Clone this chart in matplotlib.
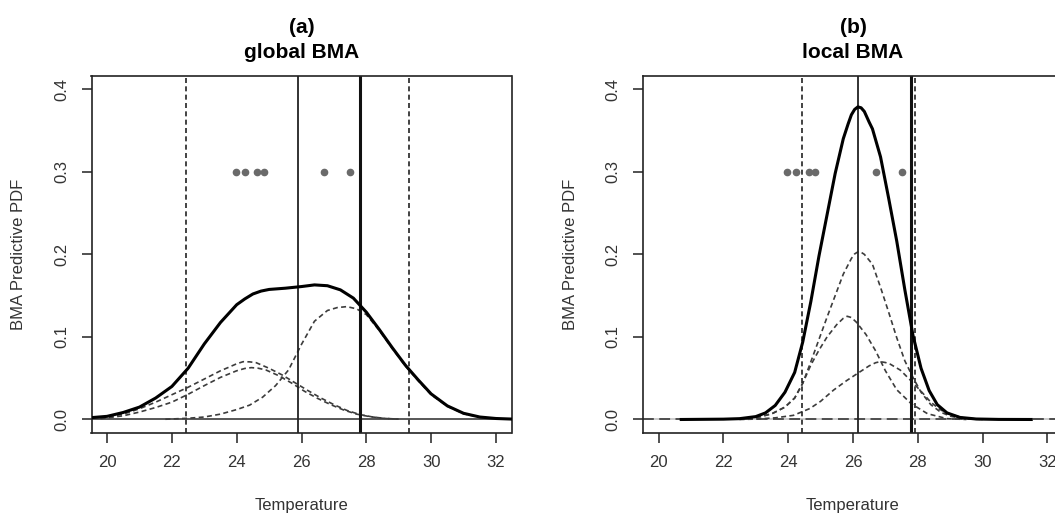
import matplotlib
matplotlib.use("Agg")
import matplotlib.pyplot as plt

plt.rcParams['font.family'] = ['Liberation Sans', 'DejaVu Sans']

# ---------------- data ----------------
members = [23.97, 24.25, 24.63, 24.84, 26.70, 27.50]
observation = 27.8
member_level = 0.3

# panel (a) global BMA
a_q10, a_median, a_q90 = 22.45, 25.90, 29.33
a_bma_t = [19.5, 20.0, 20.5, 21.0, 21.5, 22.0, 22.5, 23.0, 23.5, 24.0, 24.25, 24.5, 24.75,
           25.0, 25.5, 26.0, 26.4, 26.8, 27.2, 27.6, 28.0, 28.4, 28.8, 29.2, 29.6, 30.0,
           30.5, 31.0, 31.5, 32.0, 32.5]
a_bma_v = [0.0022, 0.0038, 0.0085, 0.015, 0.026, 0.040, 0.062, 0.0915, 0.1175, 0.139, 0.146,
           0.152, 0.1555, 0.1575, 0.159, 0.161, 0.163, 0.162, 0.157, 0.147, 0.130, 0.109,
           0.087, 0.066, 0.048, 0.031, 0.0165, 0.0075, 0.003, 0.0012, 0.0005]
a_c1_t = [19.8, 20.5, 21.0, 21.5, 22.0, 22.5, 23.0, 23.5, 23.8, 24.0, 24.2, 24.4, 24.6, 25.0,
          25.4, 25.8, 26.2, 26.6, 27.0, 27.4, 27.8, 28.2, 28.6, 29.0]
a_c1_v = [0.0015, 0.0065, 0.013, 0.021, 0.030, 0.039, 0.049, 0.059, 0.064, 0.0675, 0.070,
          0.0698, 0.0688, 0.062, 0.054, 0.0445, 0.035, 0.026, 0.018, 0.011, 0.006, 0.003,
          0.0012, 0.0004]
a_c2_t = [19.8, 20.5, 21.0, 21.5, 22.0, 22.5, 23.0, 23.5, 24.0, 24.25, 24.45, 24.65, 24.9,
          25.3, 25.7, 26.1, 26.5, 26.9, 27.3, 27.7, 28.1, 28.5, 29.0]
a_c2_v = [0.001, 0.0045, 0.009, 0.0145, 0.021, 0.0305, 0.041, 0.051, 0.059, 0.0618, 0.0628,
          0.0622, 0.060, 0.053, 0.044, 0.034, 0.0255, 0.018, 0.0115, 0.0065, 0.0035, 0.0015,
          0.0004]
a_c3_t = [21.8, 22.5, 23.0, 23.5, 24.0, 24.4, 24.8, 25.2, 25.6, 26.0, 26.4, 26.8, 27.1, 27.4,
          27.7, 28.0, 28.4, 28.8, 29.2, 29.6, 30.0, 30.5, 31.0, 31.5, 32.0]
a_c3_v = [0.0003, 0.0015, 0.003, 0.0065, 0.012, 0.0174, 0.027, 0.041, 0.060, 0.091, 0.119,
          0.132, 0.1355, 0.1367, 0.134, 0.127, 0.108, 0.086, 0.065, 0.047, 0.030, 0.016,
          0.007, 0.0028, 0.001]

# panel (b) local BMA
b_q10, b_median, b_q90 = 24.43, 26.14, 27.90
b_bma_t = [20.7, 22.0, 22.5, 23.0, 23.3, 23.6, 23.9, 24.2, 24.45, 24.7, 24.95, 25.2, 25.45,
           25.7, 25.85, 25.95, 26.05, 26.15, 26.25, 26.35, 26.5, 26.6, 26.85, 27.1, 27.35,
           27.6, 27.85, 28.1, 28.35, 28.6, 28.9, 29.3, 29.8, 30.5, 31.5]
b_bma_v = [0.0, 0.0004, 0.001, 0.0035, 0.008, 0.017, 0.033, 0.057, 0.094, 0.143, 0.198,
           0.248, 0.298, 0.340, 0.358, 0.369, 0.3755, 0.3786, 0.3775, 0.373, 0.360, 0.352,
           0.318, 0.268, 0.216, 0.157, 0.102, 0.062, 0.035, 0.018, 0.008, 0.0025, 0.0006,
           0.0001, 0.0]
b_c1_t = [22.5, 23.0, 23.5, 23.9, 24.2, 24.45, 24.7, 24.95, 25.2, 25.45, 25.7, 25.95, 26.05,
          26.15, 26.25, 26.35, 26.6, 26.85, 27.1, 27.35, 27.6, 27.85, 28.1, 28.4, 28.7, 29.0,
          29.4, 30.0]
b_c1_v = [0.0005, 0.002, 0.007, 0.015, 0.026, 0.044, 0.070, 0.097, 0.124, 0.150, 0.176,
          0.195, 0.2005, 0.203, 0.2025, 0.200, 0.188, 0.160, 0.130, 0.099, 0.071, 0.051,
          0.033, 0.018, 0.009, 0.004, 0.001, 0.0]
b_c2_t = [22.5, 23.0, 23.5, 23.9, 24.2, 24.45, 24.7, 24.95, 25.2, 25.5, 25.7, 25.82, 25.95,
          26.1, 26.4, 26.7, 27.0, 27.35, 27.8, 28.3, 28.9, 29.5]
b_c2_v = [0.0005, 0.002, 0.007, 0.015, 0.026, 0.044, 0.066, 0.084, 0.100, 0.115, 0.1225,
          0.125, 0.1235, 0.118, 0.103, 0.083, 0.059, 0.036, 0.019, 0.007, 0.001, 0.0]
b_c3_t = [22.5, 23.0, 23.6, 24.16, 24.67, 25.0, 25.4, 25.8, 26.14, 26.5, 26.7, 26.84, 27.0,
          27.15, 27.46, 27.87, 28.15, 28.39, 28.65, 28.9, 29.4, 30.0]
b_c3_v = [0.0, 0.0005, 0.002, 0.005, 0.0133, 0.022, 0.0356, 0.047, 0.0558, 0.065, 0.0688,
          0.070, 0.069, 0.067, 0.0598, 0.0437, 0.032, 0.0214, 0.013, 0.0073, 0.002, 0.0]

x_ticks = [20, 22, 24, 26, 28, 30, 32]
y_ticks = [0.0, 0.1, 0.2, 0.3, 0.4]
y_ticklabels = ["0.0", "0.1", "0.2", "0.3", "0.4"]

# ---------------- figure ----------------
W, H = 1055, 516
fig = plt.figure(figsize=(W / 100, H / 100), dpi=100)
ax_h = 356.7
bottom = (H - 432.7) / H
ax1 = fig.add_axes([91.5 / W, bottom, 420 / W, ax_h / H])
ax2 = fig.add_axes([643 / W, bottom, 420 / W, ax_h / H])

comp_color = '#3c3c3c'
dash = (0, (3, 2))


def style(ax, title):
    ax.set_xlim(19.52, 32.48)
    ax.set_ylim(-0.016, 0.416)
    ax.set_xticks(x_ticks)
    ax.set_xticklabels([str(t) for t in x_ticks])
    ax.set_yticks(y_ticks)
    ax.set_yticklabels(y_ticklabels, rotation=90, va='center')
    ax.tick_params(direction='out', length=7, width=1.1, labelsize=12,
                   labelcolor='#333333', pad=9, color='#222222')
    for s in ax.spines.values():
        s.set_linewidth(1.2)
        s.set_color('#222222')
    ax.set_xlabel('Temperature', fontsize=12, color='#333333')
    ax.set_ylabel('BMA Predictive PDF', fontsize=12, color='#333333')
    ax.xaxis.set_label_coords(0.5, -0.182)
    ax.yaxis.set_label_coords(-0.155, 0.5)
    ax.set_title(title, fontsize=15, fontweight='bold', pad=13, linespacing=1.4)


def panel(ax, bma_t, bma_v, comps, q10, med, q90, hline_style):
    if hline_style == 'solid':
        ax.axhline(0, color='#4a4a4a', lw=1.3, zorder=1)
    else:
        ax.axhline(0, color='#c8c8c8', lw=1.3, zorder=1)
        ax.axhline(0, color='#444444', lw=1.3, ls=(0, (6, 3)), zorder=1.5)
    for ct, cv in comps:
        ax.plot(ct, cv, color=comp_color, lw=1.2, ls=dash, zorder=2)
    ax.plot(bma_t, bma_v, color='black', lw=2.2, zorder=3, solid_joinstyle='round')
    ax.axvline(q10, color='#222222', lw=1.2, ls=dash, zorder=2)
    ax.axvline(q90, color='#222222', lw=1.2, ls=dash, zorder=2)
    ax.axvline(med, color='#222222', lw=1.3, zorder=2)
    ax.axvline(observation, color='#111111', lw=2.2, zorder=2)
    ax.plot(members, [member_level] * len(members), 'o', color='#6a6a6a', ms=4.5,
            mec='#6a6a6a', zorder=4)


panel(ax1, a_bma_t, a_bma_v, [(a_c1_t, a_c1_v), (a_c2_t, a_c2_v), (a_c3_t, a_c3_v)],
      a_q10, a_median, a_q90, 'solid')
panel(ax2, b_bma_t, b_bma_v, [(b_c1_t, b_c1_v), (b_c2_t, b_c2_v), (b_c3_t, b_c3_v)],
      b_q10, b_median, b_q90, 'dashed')

style(ax1, "(a)\nglobal BMA")
style(ax2, "(b)\nlocal BMA")

fig.savefig('out.png', dpi=100)
